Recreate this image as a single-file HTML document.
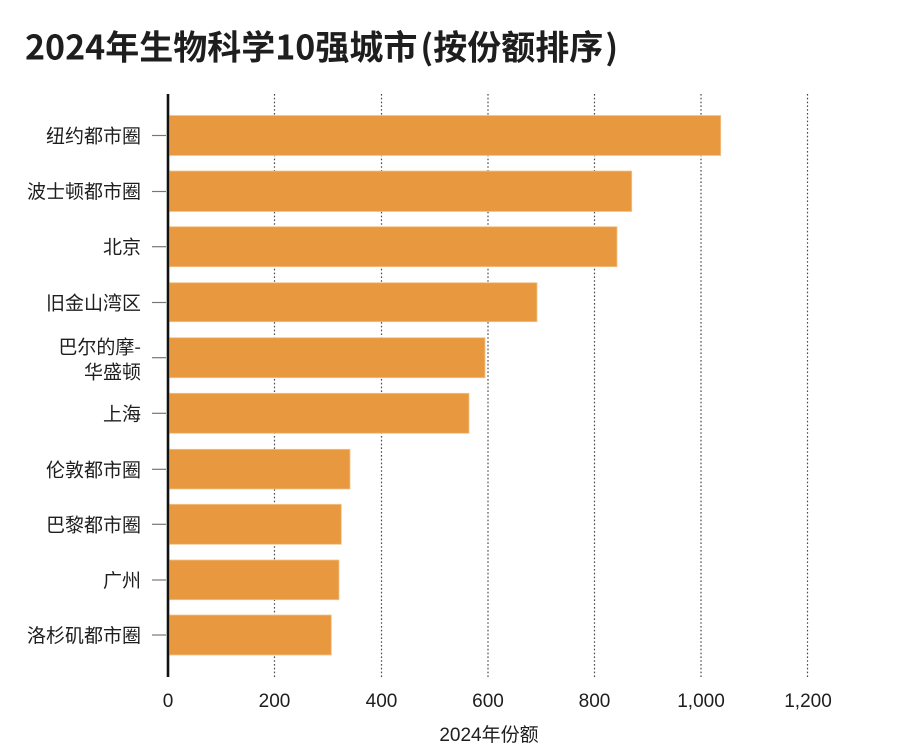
<!DOCTYPE html>
<html>
<head>
<meta charset="utf-8">
<style>
  html, body { margin: 0; padding: 0; background: #ffffff; }
  svg { display: block; }
  text { font-family: "Liberation Sans", "Noto Sans CJK SC", sans-serif; fill: #1e1e1e; }
  .cjk { font-family: "Noto Sans CJK SC", "Liberation Sans", sans-serif; }
</style>
</head>
<body>
<svg width="900" height="754" viewBox="0 0 900 754" xmlns="http://www.w3.org/2000/svg">
  <rect x="0" y="0" width="900" height="754" fill="#ffffff"/>

  <!-- Title -->
  <text x="25" y="59.5" font-size="34" font-weight="700" style="font-family:'Noto Sans CJK SC','Liberation Sans',sans-serif;" fill="#1a1a1a">2024年生物科学10强城市<tspan dx="3">(</tspan>按份额排序<tspan dx="2">)</tspan></text>

  <!-- Gridlines -->
  <g stroke="#4a4a4a" stroke-width="1.2" stroke-dasharray="1.6 2.2">
    <line x1="274.5" y1="94" x2="274.5" y2="677"/>
    <line x1="381.5" y1="94" x2="381.5" y2="677"/>
    <line x1="488" y1="94" x2="488" y2="677"/>
    <line x1="594.5" y1="94" x2="594.5" y2="677"/>
    <line x1="701" y1="94" x2="701" y2="677"/>
    <line x1="807.5" y1="94" x2="807.5" y2="677"/>
  </g>

  <!-- Bars -->
  <g fill="#e8993f" stroke="#f3c48c" stroke-width="0.8">
    <rect x="169.5" y="115.5" width="551.2" height="40"/>
    <rect x="169.5" y="171" width="462.2" height="40.5"/>
    <rect x="169.5" y="226.7" width="447.5" height="40"/>
    <rect x="169.5" y="282.7" width="367.5" height="39"/>
    <rect x="169.5" y="337.7" width="315.5" height="40"/>
    <rect x="169.5" y="393.3" width="299.5" height="40"/>
    <rect x="169.5" y="449.3" width="180.5" height="39.7"/>
    <rect x="169.5" y="504.3" width="171.8" height="40"/>
    <rect x="169.5" y="560" width="169.5" height="39.7"/>
    <rect x="169.5" y="615" width="161.8" height="40"/>
  </g>

  <!-- Y axis line -->
  <line x1="168" y1="94" x2="168" y2="677" stroke="#111" stroke-width="2.6"/>

  <!-- Y ticks -->
  <g stroke="#777" stroke-width="1.2">
    <line x1="152" y1="135.5" x2="166" y2="135.5"/>
    <line x1="152" y1="191.5" x2="166" y2="191.5"/>
    <line x1="152" y1="246.7" x2="166" y2="246.7"/>
    <line x1="152" y1="302.5" x2="166" y2="302.5"/>
    <line x1="152" y1="357.7" x2="166" y2="357.7"/>
    <line x1="152" y1="413.3" x2="166" y2="413.3"/>
    <line x1="152" y1="469.3" x2="166" y2="469.3"/>
    <line x1="152" y1="524.3" x2="166" y2="524.3"/>
    <line x1="152" y1="580" x2="166" y2="580"/>
    <line x1="152" y1="635" x2="166" y2="635"/>
  </g>

  <!-- Category labels -->
  <g font-size="19" text-anchor="end">
    <text class="cjk" x="141" y="142.5">纽约都市圈</text>
    <text class="cjk" x="141" y="198">波士顿都市圈</text>
    <text class="cjk" x="141" y="253.7">北京</text>
    <text class="cjk" x="141" y="309.5">旧金山湾区</text>
    <text class="cjk" x="141" y="353.7">巴尔的摩-</text>
    <text class="cjk" x="141" y="378.7">华盛顿</text>
    <text class="cjk" x="141" y="420.3">上海</text>
    <text class="cjk" x="141" y="476.3">伦敦都市圈</text>
    <text class="cjk" x="141" y="531.3">巴黎都市圈</text>
    <text class="cjk" x="141" y="587">广州</text>
    <text class="cjk" x="141" y="642">洛杉矶都市圈</text>
  </g>

  <!-- X tick labels -->
  <g font-size="19" text-anchor="middle">
    <text x="168" y="707">0</text>
    <text x="274.5" y="707">200</text>
    <text x="381.5" y="707">400</text>
    <text x="488" y="707">600</text>
    <text x="594.5" y="707">800</text>
    <text x="701" y="707">1,000</text>
    <text x="808" y="707">1,200</text>
  </g>

  <!-- X axis title -->
  <text x="489" y="741" font-size="19" text-anchor="middle">2024年份额</text>
</svg>
</body>
</html>
